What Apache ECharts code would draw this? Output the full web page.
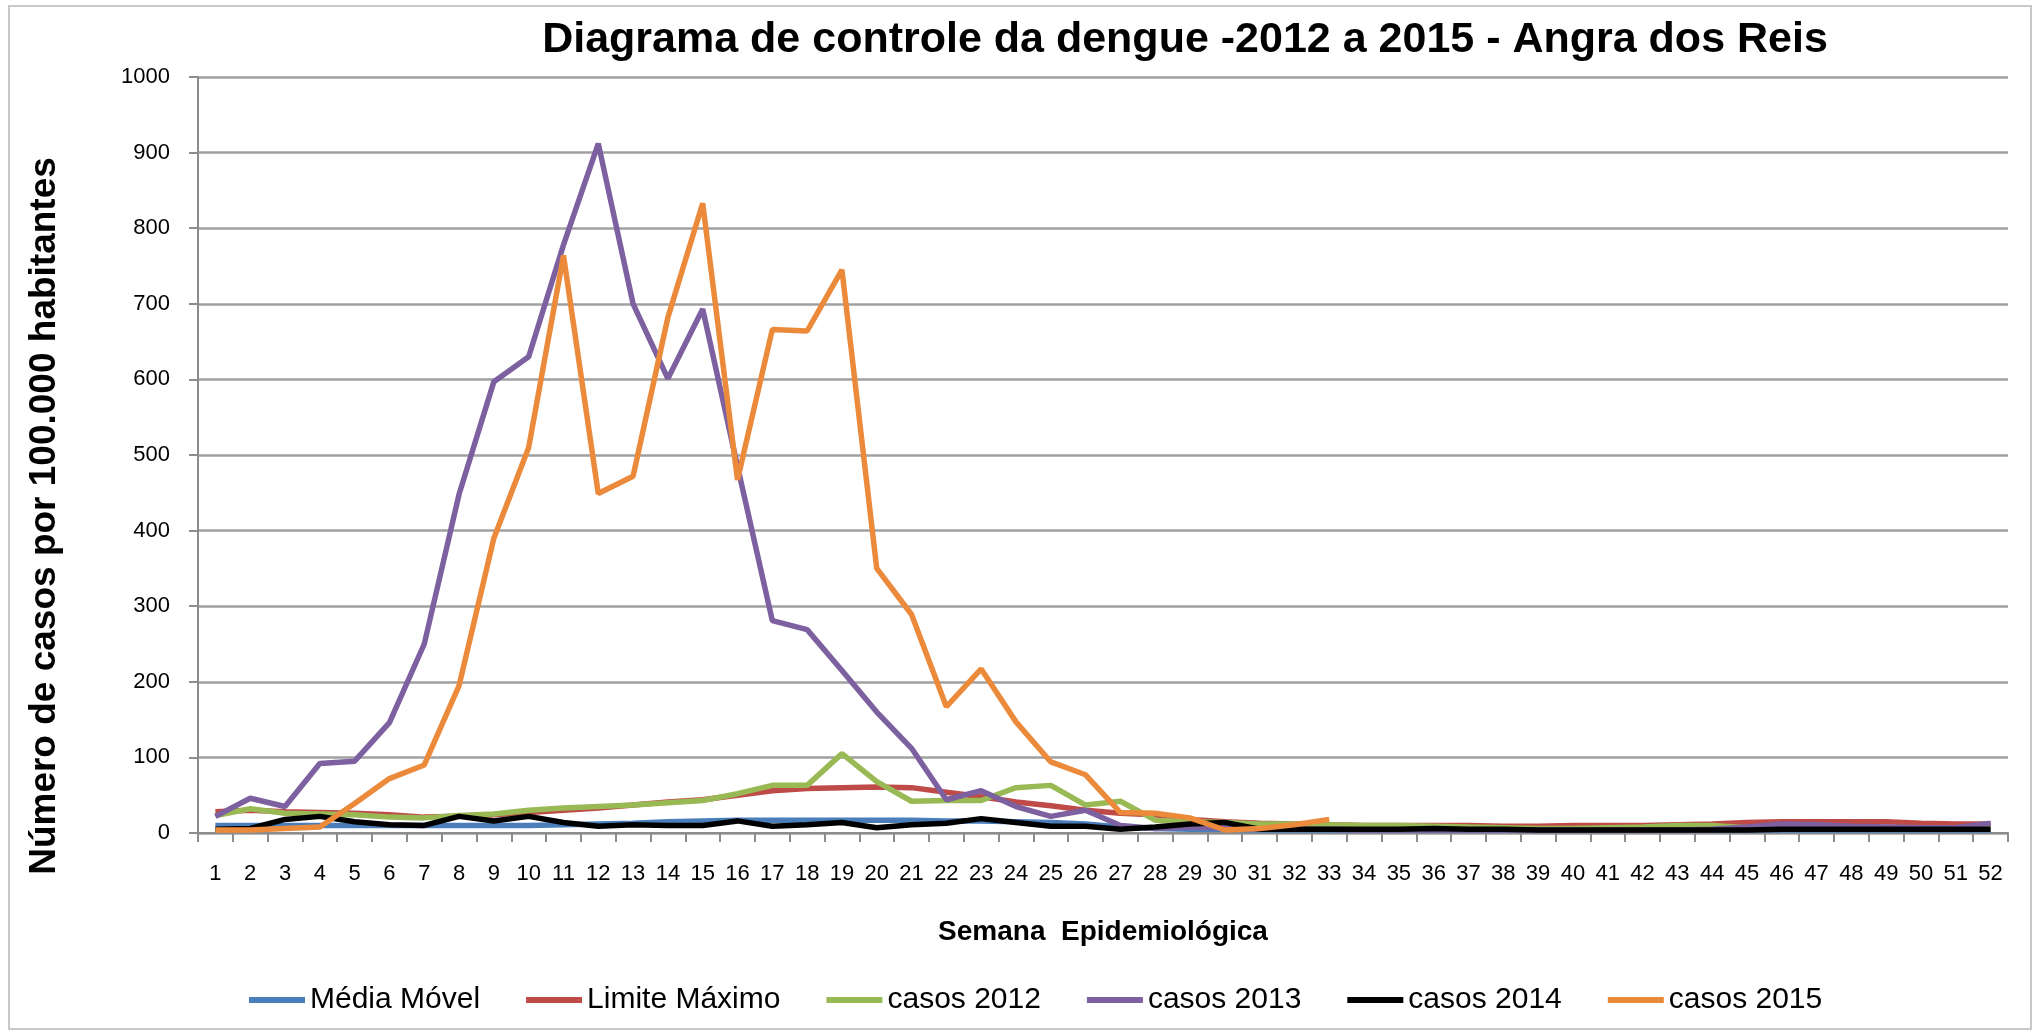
<!DOCTYPE html>
<html>
<head>
<meta charset="utf-8">
<script src="https://cdn.jsdelivr.net/npm/echarts@6/dist/echarts.min.js"></script>
<style>
html,body{margin:0;padding:0;background:#fff;}
#chart{width:2038px;height:1033px;}
</style>
</head>
<body>
<div id="chart"></div>
<script>
var weeks = [];
for (var w = 1; w <= 52; w++) weeks.push(String(w));

var yTicks = [0, 100, 200, 300, 400, 500, 600, 700, 800, 900, 1000];

var mediaMovel = [10,10,10,10,10,10,10,10,10,10,11,12,13,15,16,17,17,17,17,17,17,16,16,15,14,12,8,6,5,5,4,4,4,4,4,4,4,4,4,4,4,4,4,4,4,4,4,4,4,4,4,4];
var limiteMaximo = [28,30,28,27,26,24,21,22,24,27,30,33,37,41,44,50,56,59,60,61,60,54,48,41,36,30,26,24,18,15,13,12,11,10,10,10,10,9,9,10,10,10,11,12,14,15,15,15,15,13,12,12];
var casos2012 = [23,32,26,25,24,21,20,23,25,30,33,35,37,40,43,52,63,63,105,68,42,43,43,60,63,37,42,17,15,14,12,12,11,10,10,9,8,7,6,6,7,8,10,10,7,5,5,5,5,5,5,5];
var casos2013 = [22,46,35,92,95,146,250,448,597,630,778,912,700,601,693,485,281,269,215,160,112,44,56,35,22,30,10,6,8,7,5,5,5,4,4,4,4,4,4,4,4,4,4,5,8,12,11,9,8,7,7,13];
var casos2014 = [5,6,18,22,15,11,10,22,16,22,14,9,11,10,10,16,9,11,14,7,11,13,19,14,9,9,5,8,12,14,5,5,5,5,5,6,5,5,4,4,4,4,4,4,4,5,5,5,5,5,5,5];
var casos2015 = [4,4,6,8,39,72,90,195,390,510,764,449,472,682,833,467,666,664,745,350,289,167,217,147,94,77,27,26,20,4,6,11,18];

var seriesNames = ['Média Móvel','Limite Máximo','casos 2012','casos 2013','casos 2014','casos 2015'];
var seriesData = [mediaMovel, limiteMaximo, casos2012, casos2013, casos2014, casos2015];
var seriesColors = ['#4A7EBB','#BE4B48','#98B954','#7D60A0','#000000','#EC8A3C'];

var FONT = '"Liberation Sans", Arial, sans-serif';

var chart = echarts.init(document.getElementById('chart'), null, {renderer: 'canvas'});

var series = seriesNames.map(function (n, i) {
  return {
    name: n,
    type: 'line',
    data: seriesData[i],
    showSymbol: false,
    symbol: 'none',
    smooth: false,
    animation: false,
    lineStyle: {color: seriesColors[i], width: 5.5},
    itemStyle: {color: seriesColors[i]},
    emphasis: {disabled: true}
  };
});

chart.setOption({
  backgroundColor: '#ffffff',
  animation: false,
  title: {
    text: 'Diagrama de controle da dengue -2012 a 2015 - Angra dos Reis',
    left: 1180,
    textAlign: 'center',
    top: 14,
    textStyle: {fontFamily: FONT, fontSize: 43, fontWeight: 'bold', color: '#000'}
  },
  legend: {
    data: seriesNames,
    left: 244,
    top: 980,
    icon: 'rect',
    itemWidth: 56,
    itemHeight: 6,
    itemGap: 46,
    textStyle: {fontFamily: FONT, fontSize: 30, color: '#000'}
  },
  grid: {left: 198, right: 30, top: 77, bottom: 200, containLabel: false},
  xAxis: {
    type: 'category',
    data: weeks,
    boundaryGap: true,
    name: 'Semana  Epidemiológica',
    nameLocation: 'middle',
    nameGap: 85,
    nameTextStyle: {fontFamily: FONT, fontSize: 28, fontWeight: 'bold', color: '#000'},
    axisLine: {lineStyle: {color: '#8C8C8C', width: 2}},
    axisTick: {show: true, alignWithLabel: false, interval: 0, length: 9, lineStyle: {color: '#8C8C8C', width: 2}},
    axisLabel: {interval: 0, margin: 30, fontFamily: FONT, fontSize: 22, color: '#000'},
    splitLine: {show: false}
  },
  yAxis: {
    type: 'value',
    min: 0,
    max: 1000,
    interval: 100,
    axisLine: {show: true, lineStyle: {color: '#8C8C8C', width: 2}},
    axisTick: {show: true, length: 9, lineStyle: {color: '#8C8C8C', width: 2}},
    axisLabel: {
      margin: 28, fontFamily: FONT, fontSize: 22, color: '#000',
      formatter: function (v) { return yTicks.indexOf(v) >= 0 ? String(v) : ''; }
    },
    splitLine: {show: true, lineStyle: {color: '#A0A0A0', width: 2.5}}
  },
  graphic: [
    {
      type: 'rect',
      shape: {x: 9, y: 6, width: 2022, height: 1023},
      style: {fill: 'none', stroke: '#C8C8C8', lineWidth: 2},
      silent: true, z: -1
    },
    {
      type: 'text',
      x: 45, y: 516,
      rotation: Math.PI / 2,
      style: {
        text: 'Número de casos por 100.000 habitantes',
        fontFamily: FONT, fontSize: 37, fontWeight: 'bold', fill: '#000',
        textAlign: 'center', textVerticalAlign: 'middle'
      },
      silent: true
    }
  ],
  series: series
});
</script>
</body>
</html>
